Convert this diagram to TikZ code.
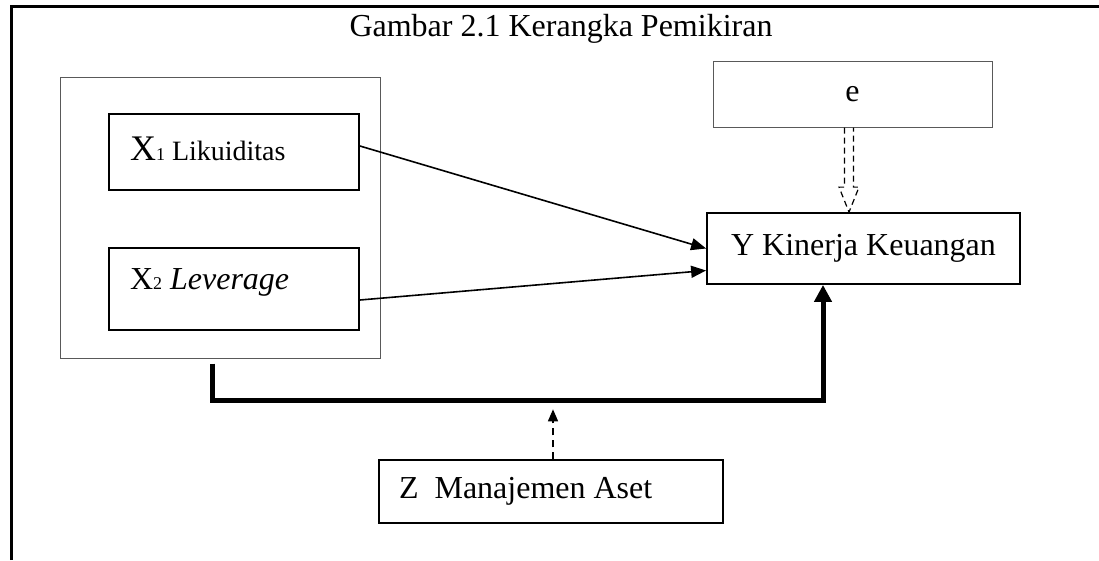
\documentclass[tikz,border=0pt]{standalone}
\usepackage{fontspec}
\setmainfont{Liberation Serif}
\usetikzlibrary{arrows.meta,calc}

\begin{document}
\begin{tikzpicture}[x=1pt,y=1pt,
  varbox/.style={draw,line width=1.8pt,minimum width=250pt,inner xsep=21pt,inner ysep=0pt,
    text width=208pt,align=flush left},
  greybox/.style={draw=black!65,line width=1pt,inner sep=0pt},
  arr/.style={line width=1.6pt,-{Triangle[length=15pt,width=12pt]}},
  bigarr/.style={line width=5pt,-{Triangle[length=17pt,width=17pt]}},
  dasharr/.style={line width=1.4pt,dash pattern=on 7pt off 5pt,-{Triangle[length=12pt,width=10pt]}},
  hollow/.style={line width=1.2pt,dash pattern=on 6pt off 4pt}]
\useasboundingbox (0,0) rectangle (1099,-560);
\draw[line width=3pt] (11,-560) -- (11,-6) -- (1099,-6);
\node[anchor=base,font=\fontsize{32}{38}\selectfont] (title) at (561,-36) {Gambar 2.1 Kerangka Pemikiran};
\node[greybox,minimum width=320pt,minimum height=281pt] (grp) at (220,-217.5) {};
\node[varbox,minimum height=76pt,text height=24pt,text depth=8pt,font=\fontsize{28}{32}\selectfont] (x1) at (234,-152)
  {{\fontsize{36}{40}\selectfont X}{\fontsize{18}{20}\selectfont 1} Likuiditas};
\node[varbox,minimum height=82pt,text height=21pt,text depth=21pt,font=\fontsize{32}{38}\selectfont] (x2) at (234,-289)
  {X{\fontsize{18}{20}\selectfont 2} \textit{Leverage}};
\node[greybox,minimum width=279pt,minimum height=66pt,font=\fontsize{32}{38}\selectfont] (e) at (852.5,-94) {e};
\node[draw,line width=1.8pt,minimum width=313pt,minimum height=71pt,inner sep=0pt,
  font=\fontsize{32}{38}\selectfont] (y) at (863.5,-248.5) {Y Kinerja Keuangan};
\node[draw,line width=1.4pt,minimum width=344pt,minimum height=63pt,inner xsep=20pt,inner ysep=0pt,
  text width=304pt,align=flush left,font=\fontsize{32}{38}\selectfont] (z) at (551,-491.5) {Z\ \ Manajemen Aset};
\coordinate (barStart) at ($(grp.south)+(-8,-5)$);
\coordinate (zTip) at ($(z.north)+(2,50)$);
\coordinate (eTip) at ([xshift=-14.5pt]y.north);
\draw[arr] ([yshift=6pt]x1.east) -- (y.west);
\draw[arr] ([yshift=-11pt]x2.east) -- ([yshift=-22pt]y.west);
\draw[bigarr] (barStart) -- ++(0,-37) -| ([xshift=-40.5pt]y.south);
\draw[dasharr] ([xshift=2pt]z.north) -- (zTip);
\draw[hollow] ($(eTip |- e.south)+(-4.5,0)$) -- ($(eTip)+(-4.5,25)$) -- ($(eTip)+(-10,25)$)
  -- (eTip) -- ($(eTip)+(10,25)$) -- ($(eTip)+(4.5,25)$) -- ($(eTip |- e.south)+(4.5,0)$);
\end{tikzpicture}
\end{document}
